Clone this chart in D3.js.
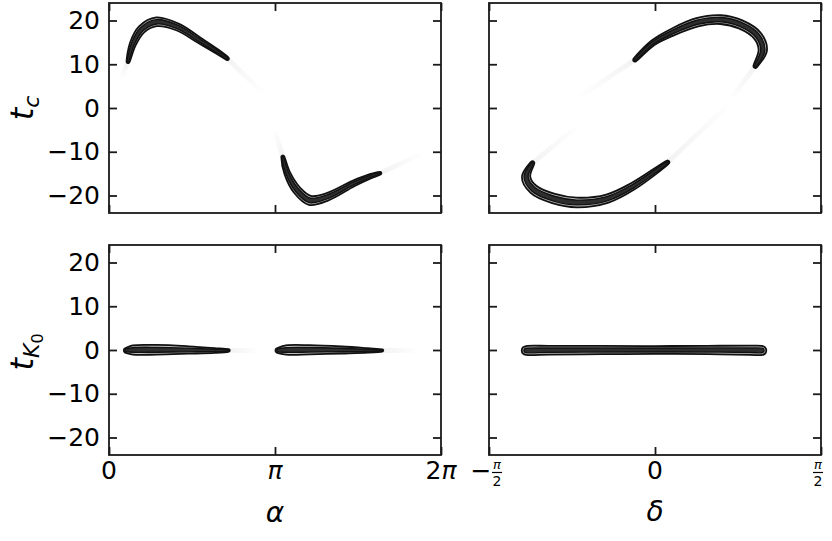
<!DOCTYPE html>
<html>
<head>
<meta charset="utf-8">
<script src="https://cdn.jsdelivr.net/npm/d3@7"></script>
<style>
  body { margin: 0; background: #fff; }
  text { font-family: "DejaVu Sans", sans-serif; fill: #000; }
</style>
</head>
<body>
<div id="chart"></div>
<script>
// tick values
var tTicks = [-20, -10, 0, 10, 20];
var alphaTicks = [0, Math.PI, 2 * Math.PI];
var deltaTicks = [-Math.PI / 2, 0, Math.PI / 2];

// ridges of the posterior contours: [x, t, half width in t]
var tcAlphaRidges = [
  [[0.36, 10.6, 0.35], [0.45, 14.6, 0.70], [0.62, 18.0, 0.90], [0.90, 19.7, 1.0], [1.30, 18.5, 0.80],
   [1.72, 15.4, 0.65], [2.05, 12.9, 0.50], [2.24, 11.3, 0.35]],
  [[3.29, -11.2, 0.35], [3.37, -14.8, 0.65], [3.56, -18.8, 0.90], [3.80, -21.1, 1.05], [4.13, -20.3, 0.85],
   [4.62, -17.3, 0.65], [4.95, -15.6, 0.50], [5.13, -14.9, 0.30]]
];
var tcDeltaRidges = [
  [[-0.19, 11.0, 0.40], [-0.02, 14.9, 0.60], [0.17, 17.4, 0.80], [0.40, 19.6, 0.95], [0.62, 20.2, 1.0],
   [0.81, 19.1, 1.0], [0.97, 16.5, 1.0], [1.02, 13.2, 0.95], [0.95, 9.6, 0.45]],
  [[-1.16, -12.6, 0.45], [-1.22, -15.7, 0.95], [-1.15, -18.6, 1.05], [-0.96, -20.7, 1.1], [-0.74, -21.6, 1.1],
   [-0.45, -20.7, 0.95], [-0.21, -17.9, 0.80], [0.12, -12.4, 0.40]]
];
var tkAlphaRidges = [
  [[0.33, -0.1, 0.60], [0.45, 0.0, 1.05], [0.90, 0.05, 1.10], [1.50, 0.0, 0.85], [2.00, -0.1, 0.55], [2.26, -0.1, 0.30]],
  [[3.20, -0.1, 0.60], [3.35, 0.0, 1.05], [3.80, 0.05, 1.05], [4.40, 0.0, 0.80], [4.90, -0.1, 0.50], [5.17, -0.1, 0.25]]
];
var tkDeltaRidges = [
  [[-1.22, -0.1, 1.0], [-1.00, -0.05, 1.0], [-0.50, 0.0, 0.95], [0.00, 0.0, 0.90], [0.50, 0.0, 0.95],
   [0.90, -0.05, 1.05], [1.01, -0.1, 1.05]]
];

// faint low-density tails: [x1, t1, x2, t2]
var tcAlphaTails = [[0.36, 10.6, 0.22, 6.5], [2.24, 11.3, 2.95, 3.0], [3.29, -11.2, 3.12, -4.5], [5.13, -14.9, 6.0, -10.0]];
var tcDeltaTails = [[-1.16, -12.6, -0.70, -3.5], [-0.19, 11.0, -0.75, 2.0], [0.12, -12.4, 0.75, 2.0], [0.95, 9.6, 0.70, 1.5]];
var tkAlphaTails = [[2.26, -0.1, 2.85, -0.1], [5.17, -0.1, 5.85, -0.1]];
var tkDeltaTails = [];

var W = 832, H = 541;
var svg = d3.select("#chart").append("svg").attr("width", W).attr("height", H);
var defs = svg.append("defs");

var cols = [{x0: 109, x1: 441}, {x0: 489, x1: 821}];
var rows = [{y0: 3, y1: 213}, {y0: 245, y1: 455}];

var levels = [
  {k: 1.0, fill: "#bdbdbd", sw: 1.8},
  {k: 0.5, fill: "#2e2e2e", sw: 1.4}
];

var contourLine = d3.line().curve(d3.curveCatmullRomClosed.alpha(0.5));
var gradId = 0;

function outline(P, k) {
  var n = P.length, left = [], right = [], i, a;
  var tang = [], norm = [];
  for (i = 0; i < n; i++) {
    var p = P[Math.max(i - 1, 0)], q = P[Math.min(i + 1, n - 1)];
    var dx = q[0] - p[0], dy = q[1] - p[1], L = Math.hypot(dx, dy);
    tang.push([dx / L, dy / L]);
    norm.push([-dy / L, dx / L]);
    var w = P[i][2] * k;
    left.push([P[i][0] + norm[i][0] * w, P[i][1] + norm[i][1] * w]);
    right.push([P[i][0] - norm[i][0] * w, P[i][1] - norm[i][1] * w]);
  }
  var poly = left.slice();
  var e = P[n - 1], we = e[2] * k, te = tang[n - 1], ne = norm[n - 1];
  for (a = 1; a < 4; a++) {
    var th = a * Math.PI / 4;
    poly.push([e[0] + we * (ne[0] * Math.cos(th) + te[0] * Math.sin(th)),
               e[1] + we * (ne[1] * Math.cos(th) + te[1] * Math.sin(th))]);
  }
  poly = poly.concat(right.reverse());
  var s = P[0], ws = s[2] * k, ts = tang[0], ns = norm[0];
  for (a = 1; a < 4; a++) {
    var th2 = a * Math.PI / 4;
    poly.push([s[0] - ws * (ns[0] * Math.cos(th2) + ts[0] * Math.sin(th2)),
               s[1] - ws * (ns[1] * Math.cos(th2) + ts[1] * Math.sin(th2))]);
  }
  return poly;
}

function panel(ci, ri, xDomain, xTicks, ridges, tails) {
  var c = cols[ci], r = rows[ri];
  var x = d3.scaleLinear().domain(xDomain).range([c.x0, c.x1]);
  var y = d3.scaleLinear().domain([-24, 24]).range([r.y1, r.y0]);
  var ky = Math.abs(y(1) - y(0));
  var clipId = "clip" + ci + ri;
  defs.append("clipPath").attr("id", clipId).append("rect")
    .attr("x", c.x0).attr("y", r.y0).attr("width", c.x1 - c.x0).attr("height", r.y1 - r.y0);
  var g = svg.append("g").attr("clip-path", "url(#" + clipId + ")");

  // faint tails
  tails.forEach(function(d) {
    var id = "tail" + (gradId++);
    var lg = defs.append("linearGradient").attr("id", id).attr("gradientUnits", "userSpaceOnUse")
      .attr("x1", x(d[0])).attr("y1", y(d[1])).attr("x2", x(d[2])).attr("y2", y(d[3]));
    lg.append("stop").attr("offset", 0).attr("stop-color", "#000").attr("stop-opacity", 0.05);
    lg.append("stop").attr("offset", 1).attr("stop-color", "#000").attr("stop-opacity", 0);
    g.append("line").attr("x1", x(d[0])).attr("y1", y(d[1])).attr("x2", x(d[2])).attr("y2", y(d[3]))
      .attr("stroke", "url(#" + id + ")").attr("stroke-width", 5).attr("stroke-linecap", "round");
  });

  // contours
  ridges.forEach(function(rd) {
    var P = rd.map(function(d) { return [x(d[0]), y(d[1]), d[2] * ky]; });
    levels.forEach(function(lv) {
      g.append("path").attr("d", contourLine(outline(P, lv.k)))
        .attr("fill", lv.fill).attr("stroke", "#111").attr("stroke-width", lv.sw)
        .attr("stroke-linejoin", "round");
    });
  });

  // ticks on all four sides, pointing inward
  var left = svg.append("g").attr("transform", "translate(" + c.x0 + ",0)")
    .call(d3.axisLeft(y).tickValues(tTicks).tickSizeInner(-8).tickSizeOuter(0).tickPadding(9)
      .tickFormat(ci === 0 ? function(v) { return d3.format("d")(v).replace("-", "\u2212"); } : ""));
  svg.append("g").attr("transform", "translate(" + c.x1 + ",0)")
    .call(d3.axisRight(y).tickValues(tTicks).tickSizeInner(-8).tickSizeOuter(0).tickFormat(""));
  svg.append("g").attr("transform", "translate(0," + r.y0 + ")")
    .call(d3.axisTop(x).tickValues(xTicks).tickSizeInner(-8).tickSizeOuter(0).tickFormat(""));
  svg.append("g").attr("transform", "translate(0," + r.y1 + ")")
    .call(d3.axisBottom(x).tickValues(xTicks).tickSizeInner(-8).tickSizeOuter(0).tickFormat(""));

  svg.selectAll(".domain").remove();
  svg.selectAll(".tick line").attr("stroke", "#1a1a1a").attr("stroke-width", 1.8);
  left.selectAll("text").style("font-size", "25px").attr("fill", "#000");

  svg.append("rect").attr("x", c.x0).attr("y", r.y0).attr("width", c.x1 - c.x0).attr("height", r.y1 - r.y0)
    .attr("fill", "none").attr("stroke", "#1a1a1a").attr("stroke-width", 1.8);

  return {x: x, y: y, c: c, r: r};
}

var pA = panel(0, 0, [0, 2 * Math.PI], alphaTicks, tcAlphaRidges, tcAlphaTails);
var pB = panel(1, 0, [-Math.PI / 2, Math.PI / 2], deltaTicks, tcDeltaRidges, tcDeltaTails);
var pC = panel(0, 1, [0, 2 * Math.PI], alphaTicks, tkAlphaRidges, tkAlphaTails);
var pD = panel(1, 1, [-Math.PI / 2, Math.PI / 2], deltaTicks, tkDeltaRidges, tkDeltaTails);

// x tick labels, alpha
var alphaLabels = [["0", ""], ["", "\u03c0"], ["2", "\u03c0"]];
var baseY = rows[1].y1 + 24;
alphaTicks.forEach(function(v, i) {
  var t = svg.append("text").attr("x", pC.x(v)).attr("y", baseY).attr("text-anchor", "middle")
    .style("font-size", "25px");
  t.append("tspan").text(alphaLabels[i][0]);
  if (alphaLabels[i][1]) t.append("tspan").style("font-style", "italic").text(alphaLabels[i][1]);
});

// x tick labels, delta (fractions)
var deltaLabels = [{sign: "\u2212", frac: true}, {sign: "", frac: false}, {sign: "", frac: true}];
deltaTicks.forEach(function(v, i) {
  var lx = pD.x(v), lab = deltaLabels[i];
  var g = svg.append("g").attr("transform", "translate(" + lx + "," + rows[1].y1 + ")");
  if (!lab.frac) {
    g.append("text").attr("x", 0).attr("y", 24).attr("text-anchor", "middle").style("font-size", "25px").text("0");
    return;
  }
  var fx = lab.sign ? 8 : -3;
  if (lab.sign) g.append("text").attr("x", -8).attr("y", 24).attr("text-anchor", "middle")
    .style("font-size", "25px").text(lab.sign);
  g.append("text").attr("x", fx).attr("y", 14).attr("text-anchor", "middle")
    .style("font-size", "13px").style("font-style", "italic").text("\u03c0");
  g.append("line").attr("x1", fx - 5).attr("x2", fx + 5).attr("y1", 17.5).attr("y2", 17.5)
    .attr("stroke", "#000").attr("stroke-width", 1.2);
  g.append("text").attr("x", fx).attr("y", 31).attr("text-anchor", "middle")
    .style("font-size", "14px").text("2");
});

// axis labels
svg.append("text").attr("x", pC.x(Math.PI)).attr("y", 522).attr("text-anchor", "middle")
  .style("font-size", "28px").style("font-style", "italic").text("\u03b1");
svg.append("text").attr("x", pD.x(0)).attr("y", 521).attr("text-anchor", "middle")
  .style("font-size", "28px").style("font-style", "italic").text("\u03b4");

var yl1 = svg.append("text").attr("transform", "translate(33,108) rotate(-90)").attr("text-anchor", "middle")
  .style("font-size", "32px").style("font-style", "italic");
yl1.append("tspan").text("t");
yl1.append("tspan").attr("dy", 6).style("font-size", "22px").text("c");

var yl2 = svg.append("text").attr("transform", "translate(33,352) rotate(-90)").attr("text-anchor", "middle")
  .style("font-size", "32px").style("font-style", "italic");
yl2.append("tspan").text("t");
yl2.append("tspan").attr("dy", 6).style("font-size", "22px").text("K");
yl2.append("tspan").attr("dy", 4).style("font-size", "16px").style("font-style", "normal").text("0");
</script>
</body>
</html>
